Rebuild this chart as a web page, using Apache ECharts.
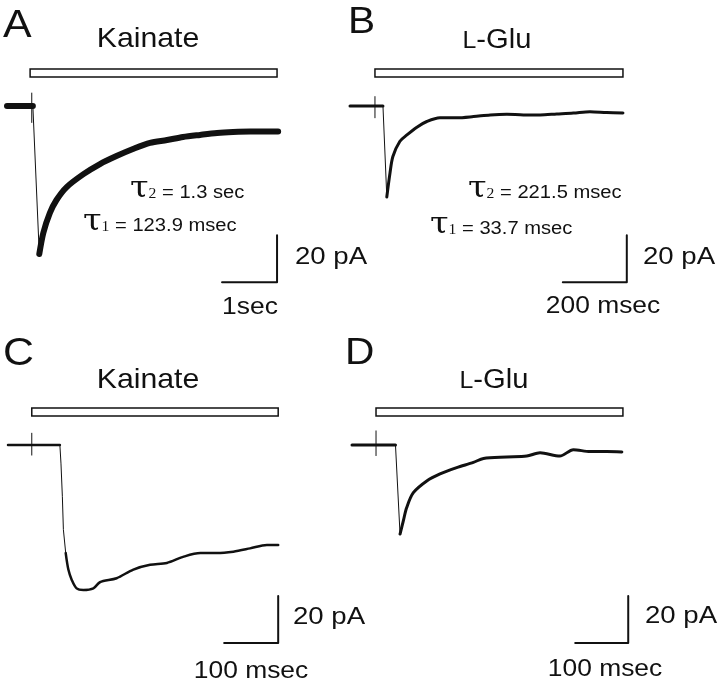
<!DOCTYPE html>
<html>
<head>
<meta charset="utf-8">
<script src="https://cdn.jsdelivr.net/npm/echarts@6/dist/echarts.min.js"></script>
<style>
html, body { margin: 0; padding: 0; background: #fff; }
#chart { width: 720px; height: 687px; }
</style>
</head>
<body>
<div id="chart"></div>
<script>
// A: kainate, time in s, current in pA (baseline = 0)
const aTime = [0, 0.45, 0.47, 0.587, 0.66, 0.78, 0.90, 1.085, 1.39, 1.69, 1.99, 2.29, 2.6, 2.91, 3.2, 3.51, 3.82, 4.11, 4.42, 4.93];
const aCurrent = [0, 0, 0, -63, -54, -45.5, -40, -34.5, -29, -24.7, -21.3, -18.3, -15.7, -14.5, -13.2, -12.3, -11.5, -11.1, -10.9, -10.9];
const aStim = [0.45, 5.5, -7];
const aDrug = [0.42, 4.91];
const aScaleT = [3.91, 4.91, 4.91];
const aScaleI = [-75, -75, -55];

// B: L-Glu, time in ms
const bTime = [0, 103, 115, 125, 134, 156, 178, 209, 240, 281, 334, 386, 438, 490, 542, 594, 646, 698, 750, 802, 853];
const bCurrent = [0, 0, -38.7, -28.5, -21.5, -15, -12.3, -9, -6.6, -5, -5, -4.5, -3.8, -3.5, -3.8, -3.8, -3.4, -3, -2.4, -2.8, -3];
const bStim = [78, 4, -5];
const bDrug = [78, 853];
const bScaleT = [665, 865, 865];
const bScaleI = [-75, -75, -55];

// C: kainate, time in ms
const cTime = [0, 96, 98, 100.6, 102.5, 106.8, 111.7, 118, 127, 139.5, 158, 170, 201, 232, 263, 294, 324, 356, 386, 417, 448, 479, 500];
const cCurrent = [0, 0, -7.7, -22, -36, -46, -53, -57.4, -61, -61.7, -61, -58.4, -56.7, -53, -51, -50.2, -47.6, -46, -46, -45.4, -44, -42.5, -42.5];
const cStim = [44, 5, -4.3];
const cDrug = [44, 500];
const cScaleT = [400, 500, 500];
const cScaleI = [-84.3, -84.3, -64.3];

// D: L-Glu, time in ms
const dTime = [0, 82, 90.6, 96.8, 103, 115.7, 141, 166, 197.5, 229, 248, 292, 329.6, 354.7, 392, 417.6, 449, 480.5, 509];
const dCurrent = [0, 0, -37.9, -32.3, -26.7, -20.3, -15.3, -12.3, -9.6, -7.4, -5.7, -5.1, -4.7, -3.3, -4.7, -2, -2.8, -2.8, -3];
const dStim = [45.3, 6, -4.5];
const dDrug = [45.3, 511];
const dScaleT = [421, 521, 521];
const dScaleI = [-84.3, -84.3, -64.3];

const drugLevel = [12.3, 15.7];
const ink = '#111';

function zip(t, v) {
  return t.map((x, i) => [x, v[i]]);
}

function line(idx, data, width, smooth) {
  return {
    type: 'line', xAxisIndex: idx, yAxisIndex: idx, data: data,
    showSymbol: false, clip: false, silent: true, animation: false,
    smooth: smooth || false,
    lineStyle: { color: ink, width: width, join: 'round', cap: 'round' }
  };
}

function panel(idx, time, current, fallFrom, fallTo, stim, drug, scaleT, scaleI, thick) {
  const pts = zip(time, current);
  // thin fast onset, thick noisy baseline and decay
  const fall = line(idx, pts.slice(fallFrom, fallTo + 1), 1);
  fall.markArea = {
    silent: true,
    itemStyle: { color: '#fff', borderColor: ink, borderWidth: 1.5 },
    data: [[{ coord: [drug[0], drugLevel[0]] }, { coord: [drug[1], drugLevel[1]] }]]
  };
  return [
    fall,
    line(idx, pts.slice(0, fallFrom + 1), thick),
    line(idx, pts.slice(fallTo), thick, 0.3),
    line(idx, [[stim[0], stim[1]], [stim[0], stim[2]]], 1),
    line(idx, zip(scaleT, scaleI), 2)
  ];
}

const grids = [
  { left: 7, top: 59, width: 275, height: 258.5 },
  { left: 350, top: 59, width: 288, height: 258.5 },
  { left: 8, top: 398, width: 281, height: 258.5 },
  { left: 352, top: 398, width: 281, height: 258.5 }
];
const xMax = [5, 900, 520, 530];

const sans = 'Liberation Sans, Arial, Helvetica, sans-serif';

function label(text, x, y, size, align, sx) {
  return {
    type: 'text', x: x, y: y, scaleX: sx || 1.1, silent: true,
    style: {
      text: text, fontSize: size, fontFamily: sans, fill: ink,
      align: align || 'left', verticalAlign: 'middle',
      textAlign: align || 'left', textVerticalAlign: 'middle'
    }
  };
}

function tau(sub, rest, x, y) {
  return {
    type: 'text', x: x, y: y, scaleX: 1.12, silent: true,
    style: {
      text: '{t|τ}{s|' + sub + '}{e| = ' + rest + '}',
      fill: ink, align: 'left', verticalAlign: 'middle',
      textAlign: 'left', textVerticalAlign: 'middle',
      rich: {
        t: { fontFamily: 'DejaVu Serif', fontSize: 30, fill: ink, verticalAlign: 'bottom' },
        s: { fontFamily: 'Liberation Serif', fontSize: 14, fill: ink, verticalAlign: 'bottom', padding: [0, 0, 3, 0] },
        e: { fontFamily: sans, fontSize: 18, fill: ink, verticalAlign: 'bottom', padding: [0, 0, 2, 0] }
      }
    }
  };
}

function glu(x, y) {
  return {
    type: 'text', x: x, y: y, scaleX: 1.08, silent: true,
    style: {
      text: '{sc|L}{n|-Glu}', fill: ink,
      align: 'center', verticalAlign: 'middle',
      textAlign: 'center', textVerticalAlign: 'middle',
      rich: {
        sc: { fontFamily: sans, fontSize: 23, fill: ink, verticalAlign: 'bottom', padding: [0, 0, 1, 0] },
        n: { fontFamily: sans, fontSize: 27, fill: ink, verticalAlign: 'bottom' }
      }
    }
  };
}

const chart = echarts.init(document.getElementById('chart'), null, { renderer: 'canvas' });
chart.setOption({
  backgroundColor: '#fff',
  animation: false,
  grid: grids,
  xAxis: grids.map((g, i) => ({ type: 'value', gridIndex: i, min: 0, max: xMax[i], show: false })),
  yAxis: grids.map((g, i) => ({ type: 'value', gridIndex: i, min: -90, max: 20, show: false })),
  series: [].concat(
    panel(0, aTime, aCurrent, 2, 3, aStim, aDrug, aScaleT, aScaleI, 6),
    panel(1, bTime, bCurrent, 1, 2, bStim, bDrug, bScaleT, bScaleI, 3),
    panel(2, cTime, cCurrent, 1, 5, cStim, cDrug, cScaleT, cScaleI, 2.5),
    panel(3, dTime, dCurrent, 1, 2, dStim, dDrug, dScaleT, dScaleI, 3)
  ),
  graphic: [
    label('A', 3, 26, 39, 'left', 1.1),
    label('B', 348, 23, 37, 'left', 1.1),
    label('C', 3, 354, 39, 'left', 1.1),
    label('D', 345, 354, 37, 'left', 1.1),
    label('Kainate', 148, 39, 28, 'center', 1.08),
    label('Kainate', 148, 380, 28, 'center', 1.08),
    glu(497, 41),
    glu(494, 381),
    tau('2', '1.3 sec', 130, 189),
    tau('1', '123.9 msec', 83, 222),
    tau('2', '221.5 msec', 468, 189),
    tau('1', '33.7 msec', 430, 225),
    label('20 pA', 295, 257, 24, 'left', 1.15),
    label('1sec', 250, 307, 24, 'center', 1.1),
    label('20 pA', 643, 257, 24, 'left', 1.15),
    label('200 msec', 603, 306, 24, 'center', 1.1),
    label('20 pA', 293, 617, 24, 'left', 1.15),
    label('100 msec', 251, 671, 24, 'center', 1.1),
    label('20 pA', 645, 616, 24, 'left', 1.15),
    label('100 msec', 605, 669, 24, 'center', 1.1)
  ]
});
</script>
</body>
</html>
